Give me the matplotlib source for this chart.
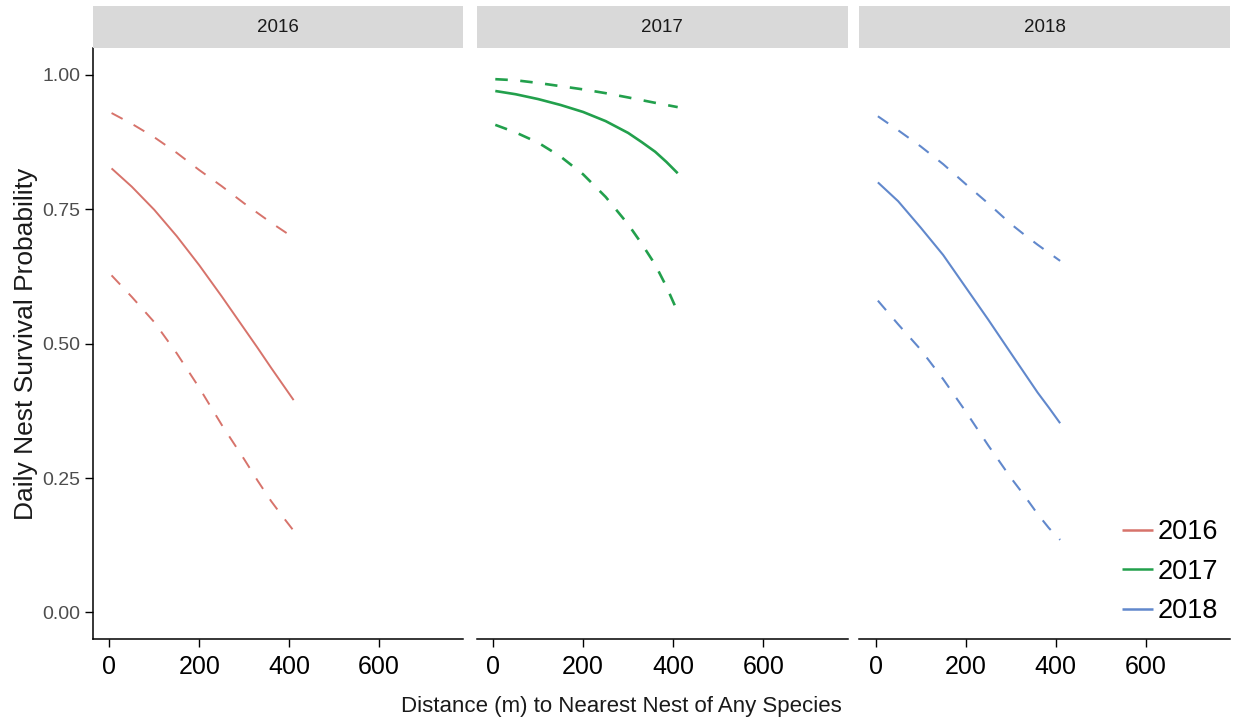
import matplotlib
matplotlib.use('Agg')
import matplotlib.pyplot as plt

plt.rcParams['font.family'] = ['Liberation Sans', 'DejaVu Sans']

W, H = 1233, 723

years = ['2016', '2017', '2018']
colours = ['#D7736B', '#22A04C', '#6188CC']
line_widths = [1.4, 1.9, 1.5]

distance = [5, 50, 100, 150, 200, 250, 300, 330, 360, 385, 410]

fit_2016 = [0.826, 0.792, 0.749, 0.700, 0.646, 0.588, 0.528, 0.492, 0.455, 0.425, 0.395]
upper_2016 = [0.929, 0.909, 0.884, 0.855, 0.823, 0.793, 0.761, 0.743, 0.725, 0.711, 0.697]
lower_2016 = [0.627, 0.587, 0.540, 0.482, 0.418, 0.349, 0.285, 0.245, 0.207, 0.179, 0.152]

fit_2017 = [0.970, 0.964, 0.955, 0.944, 0.931, 0.914, 0.892, 0.875, 0.857, 0.838, 0.817]
upper_2017 = [0.992, 0.990, 0.985, 0.979, 0.973, 0.966, 0.958, 0.953, 0.948, 0.944, 0.940]
lower_2017 = [0.907, 0.893, 0.874, 0.848, 0.815, 0.773, 0.722, 0.686, 0.647, 0.606, 0.559]

fit_2018 = [0.800, 0.765, 0.716, 0.665, 0.605, 0.545, 0.483, 0.446, 0.409, 0.381, 0.352]
upper_2018 = [0.923, 0.897, 0.867, 0.834, 0.797, 0.761, 0.723, 0.703, 0.684, 0.669, 0.654]
lower_2018 = [0.580, 0.536, 0.489, 0.434, 0.374, 0.311, 0.251, 0.218, 0.183, 0.157, 0.135]

fits = [fit_2016, fit_2017, fit_2018]
uppers = [upper_2016, upper_2017, upper_2018]
lowers = [lower_2016, lower_2017, lower_2018]

x_ticks = [0, 200, 400, 600]
y_ticks = [0.0, 0.25, 0.5, 0.75, 1.0]
y_tick_labels = ['0.00', '0.25', '0.50', '0.75', '1.00']

# panel geometry in pixels (left, right), shared top/bottom
panel_x = [(93, 463.3), (476.7, 847.7), (859.3, 1230)]
panel_top, panel_bottom = 48, 639.3
strip_top = 6

fig = plt.figure(figsize=(W / 100, H / 100), dpi=100)

solid_handles = []
for i, year in enumerate(years):
    x0, x1 = panel_x[i]
    ax = fig.add_axes([x0 / W, 1 - panel_bottom / H, (x1 - x0) / W, (panel_bottom - panel_top) / H])
    lw = line_widths[i]
    dash = (0, (9.0 / lw, 9.0 / lw))
    h, = ax.plot(distance, fits[i], color=colours[i], lw=lw, solid_capstyle='butt')
    ax.plot(distance, uppers[i], color=colours[i], lw=lw, ls=dash)
    ax.plot(distance, lowers[i], color=colours[i], lw=lw, ls=dash)
    solid_handles.append(h)

    ax.set_xlim(-36.3, 787.5)
    ax.set_ylim(-0.05, 1.05)
    ax.set_xticks(x_ticks)
    ax.set_xticklabels([str(t) for t in x_ticks])
    ax.tick_params(axis='x', length=5.4, width=1.0, pad=6, labelsize=18, labelcolor='black')
    for s in ['top', 'right']:
        ax.spines[s].set_visible(False)
    ax.spines['bottom'].set_linewidth(1.1)
    if i == 0:
        ax.set_yticks(y_ticks)
        ax.set_yticklabels(y_tick_labels)
        ax.tick_params(axis='y', length=5.6, width=1.0, pad=3.5, labelsize=14, labelcolor='#4D4D4D')
        ax.spines['left'].set_linewidth(1.1)
    else:
        ax.spines['left'].set_visible(False)
        ax.tick_params(axis='y', left=False, labelleft=False)

    # facet strip
    sax = fig.add_axes([x0 / W, 1 - panel_top / H, (x1 - x0) / W, (panel_top - strip_top) / H])
    sax.set_facecolor('#D9D9D9')
    sax.set_xticks([])
    sax.set_yticks([])
    for s in sax.spines.values():
        s.set_visible(False)
    sax.text(0.5, 0.5, year, ha='center', va='center', fontsize=13.5, color='#1A1A1A',
             transform=sax.transAxes)

    if i == 2:
        leg = ax.legend(solid_handles, years, loc='lower right',
                        bbox_to_anchor=((1218 - x0) / (x1 - x0), (panel_bottom - 624) / (panel_bottom - panel_top)),
                        frameon=False, fontsize=19.5, handlelength=1.15, handletextpad=0.15,
                        labelspacing=0.49, borderpad=0, borderaxespad=0)
        for line in leg.get_lines():
            line.set_linewidth(1.8)

fig.text(621 / W, 1 - 712 / H, 'Distance (m) to Nearest Nest of Any Species',
         ha='center', va='baseline', fontsize=16, color='#1A1A1A')
fig.text(26 / W, 1 - 343.5 / H, 'Daily Nest Survival Probability',
         ha='center', va='center', rotation=90, fontsize=19, color='#1A1A1A')

fig.savefig('out.png', dpi=100)
